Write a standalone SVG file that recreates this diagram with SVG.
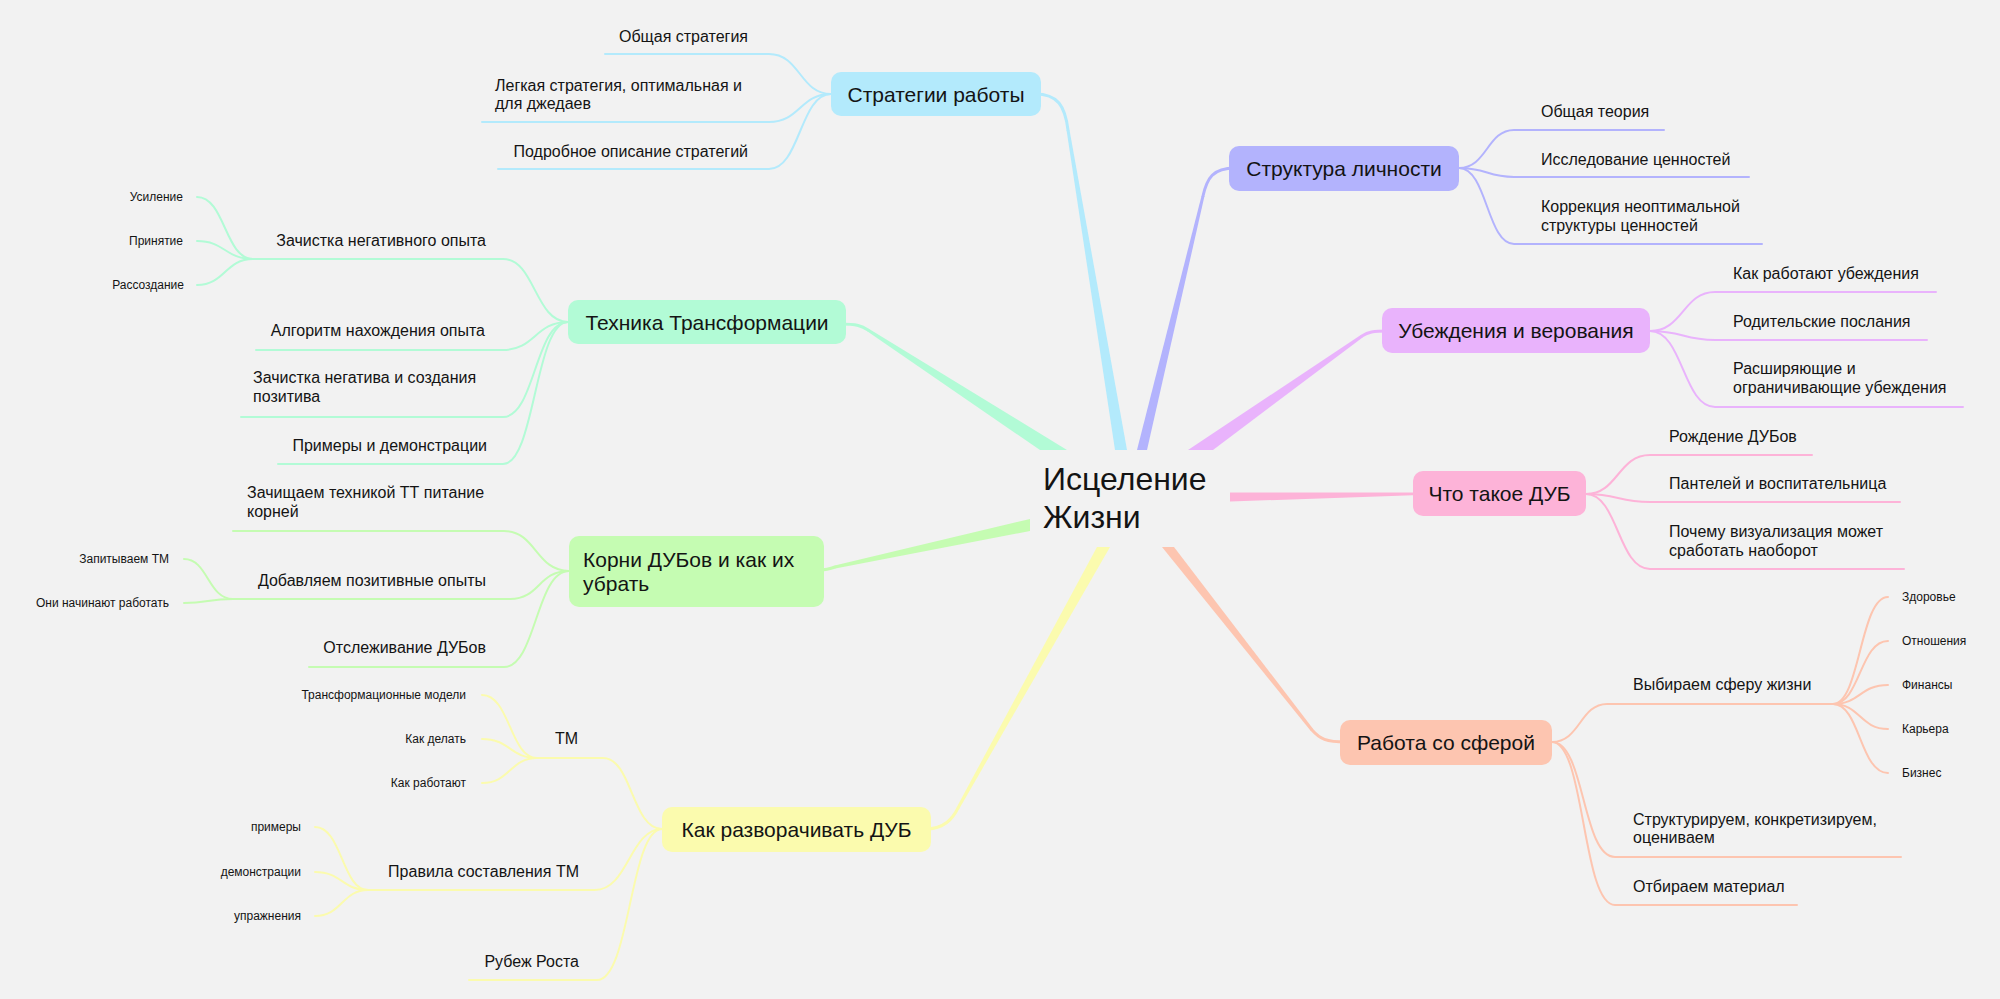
<svg xmlns="http://www.w3.org/2000/svg" width="2000" height="999" viewBox="0 0 2000 999">
<defs>
<style>
text{font-family:"Liberation Sans",Arial,sans-serif;fill:#141414}
.c{font-size:32px}
.m{font-size:21px}
.t{font-size:16px}
.s{font-size:12px}
.e{text-anchor:end}
.mid{text-anchor:middle}
.ln{fill:none;stroke-width:2;stroke-linecap:round}
.th{fill:none;stroke-width:3;stroke-linecap:round}
.blue{stroke:#b3eafc}
.purple{stroke:#b3b3fd}
.violet{stroke:#e9b3fc}
.pink{stroke:#fdb3d8}
.salmon{stroke:#fdc5b0}
.yellow{stroke:#fbfbae}
.green{stroke:#c5fcb2}
.mint{stroke:#b2fbd6}
</style>
</defs>
<rect width="2000" height="999" fill="#f2f2f2"/>

<g id="connectors">
  <!-- main tapered connectors -->
  <path class="th blue" d="M1035,94 C1058,94 1065,106 1068,130"/>
  <polygon fill="#b3eafc" points="1066.5,130 1069.5,130 1127,450 1115,450"/>
  <path class="th purple" d="M1235,168 C1213,168 1207,178 1203,196"/>
  <polygon fill="#b3b3fd" points="1201.5,196 1204.5,196 1147,450 1137,450"/>
  <path class="th violet" d="M1388,331 C1373,331 1368,332 1362,336"/>
  <polygon fill="#e9b3fc" points="1361.1,334.8 1362.9,337.2 1213,450 1188,450"/>
  <polygon fill="#fdb3d8" points="1230,492.5 1420,492.5 1420,495 1230,501.5"/>
  <polygon fill="#fdc5b0" points="1162,547 1174,547 1313.2,729.1 1310.8,730.9"/>
  <path class="th salmon" d="M1312,730 C1320,739 1326,742 1346,742"/>
  <polygon fill="#fbfbae" points="1097,547 1110,547 959.3,808.7 956.7,807.3"/>
  <path class="th yellow" d="M958,808 C953,818 945,829 925,829"/>
  <polygon fill="#c5fcb2" points="1030,519 1030,531 835.3,568.5 834.7,565.5"/>
  <path class="th green" d="M835,567 C830,569 827,570 818,570"/>
  <polygon fill="#b2fbd6" points="868.8,328.7 1067,450 1040,450 867.2,331.3"/>
  <path class="th mint" d="M868,330 C862,326 857,324 840,324"/>

  <!-- Стратегии работы -->
  <path class="ln blue" d="M831,94 C800,94 800,54 769,54 H605"/>
  <path class="ln blue" d="M831,94 C800,94 800,122 769,122 H482"/>
  <path class="ln blue" d="M831,94 C800,94 800,169 769,169 H498"/>
  <!-- Структура личности -->
  <path class="ln purple" d="M1459,168 C1487,168 1487,130 1514,130 H1664"/>
  <path class="ln purple" d="M1459,168 C1487,168 1487,177 1514,177 H1749"/>
  <path class="ln purple" d="M1459,168 C1487,168 1487,244 1514,244 H1762"/>
  <!-- Убеждения и верования -->
  <path class="ln violet" d="M1650,331 C1683,331 1683,292 1715,292 H1936"/>
  <path class="ln violet" d="M1650,331 C1683,331 1683,340 1715,340 H1927"/>
  <path class="ln violet" d="M1650,331 C1683,331 1683,407 1715,407 H1963"/>
  <!-- Что такое ДУБ -->
  <path class="ln pink" d="M1586,494 C1618,494 1618,455 1650,455 H1812"/>
  <path class="ln pink" d="M1586,494 C1618,494 1618,502 1650,502 H1900"/>
  <path class="ln pink" d="M1586,494 C1618,494 1618,569 1650,569 H1904"/>
  <!-- Работа со сферой -->
  <path class="ln salmon" d="M1552,742 C1580,742 1580,704 1607,704 H1833"/>
  <path class="ln salmon" d="M1552,742 C1585,742 1582,857 1615,857 H1901"/>
  <path class="ln salmon" d="M1552,742 C1585,742 1582,905 1615,905 H1797"/>
  <path class="ln salmon" d="M1833,704 C1860,704 1860,597 1888,597"/>
  <path class="ln salmon" d="M1833,704 C1860,704 1860,641 1888,641"/>
  <path class="ln salmon" d="M1833,704 C1860,704 1860,685 1888,685"/>
  <path class="ln salmon" d="M1833,704 C1860,704 1860,729 1888,729"/>
  <path class="ln salmon" d="M1833,704 C1860,704 1860,773 1888,773"/>
  <!-- Как разворачивать ДУБ -->
  <path class="ln yellow" d="M662,829 C632,829 632,758 603,758 H537"/>
  <path class="ln yellow" d="M662,829 C630,829 628,890 595,890 H368"/>
  <path class="ln yellow" d="M662,829 C630,829 630,980 597,980 H469"/>
  <path class="ln yellow" d="M537,758 C510,758 510,695 482,695"/>
  <path class="ln yellow" d="M537,758 C510,758 510,739 482,739"/>
  <path class="ln yellow" d="M537,758 C510,758 510,783 482,783"/>
  <path class="ln yellow" d="M368,890 C342,890 342,827 315,827"/>
  <path class="ln yellow" d="M368,890 C342,890 342,872 315,872"/>
  <path class="ln yellow" d="M368,890 C342,890 342,916 315,916"/>
  <!-- Корни ДУБов -->
  <path class="ln green" d="M569,571 C536,571 536,531 504,531 H233"/>
  <path class="ln green" d="M569,571 C538,571 540,599 510,599 H233"/>
  <path class="ln green" d="M569,571 C536,571 536,667 504,667 H309"/>
  <path class="ln green" d="M233,599 C208,599 208,559 184,559"/>
  <path class="ln green" d="M233,599 C208,599 208,603 184,603"/>
  <!-- Техника Трансформации -->
  <path class="ln mint" d="M568,322 C535,322 535,259 503,259 H253"/>
  <path class="ln mint" d="M568,322 C535,322 535,350 503,350 H256"/>
  <path class="ln mint" d="M568,322 C535,322 535,417 503,417 H241"/>
  <path class="ln mint" d="M568,322 C535,322 535,464 503,464 H278"/>
  <path class="ln mint" d="M253,259 C225,259 225,197 197,197"/>
  <path class="ln mint" d="M253,259 C225,259 225,241 197,241"/>
  <path class="ln mint" d="M253,259 C225,259 225,285 197,285"/>
</g>

<g id="central">
  <text class="c" x="1043" y="490">Исцеление</text>
  <text class="c" x="1043" y="528">Жизни</text>
</g>

<g id="strategii">
  <rect x="831" y="72" width="210" height="44" rx="10" fill="#b3eafc"/>
  <text class="m mid" x="936" y="101.5">Стратегии работы</text>
</g>
<g id="strategii-1"><text class="t e" x="748" y="42">Общая стратегия</text></g>
<g id="strategii-2"><text class="t" x="495" y="91">Легкая стратегия, оптимальная и</text><text class="t" x="495" y="109">для джедаев</text></g>
<g id="strategii-3"><text class="t e" x="748" y="157">Подробное описание стратегий</text></g>

<g id="struktura">
  <rect x="1229" y="146" width="230" height="45" rx="10" fill="#b3b3fd"/>
  <text class="m mid" x="1344" y="176">Структура личности</text>
</g>
<g id="struktura-1"><text class="t" x="1541" y="117">Общая теория</text></g>
<g id="struktura-2"><text class="t" x="1541" y="165">Исследование ценностей</text></g>
<g id="struktura-3"><text class="t" x="1541" y="212">Коррекция неоптимальной</text><text class="t" x="1541" y="231">структуры ценностей</text></g>

<g id="ubezhdeniya">
  <rect x="1382" y="308" width="268" height="45" rx="10" fill="#e9b3fc"/>
  <text class="m mid" x="1516" y="338">Убеждения и верования</text>
</g>
<g id="ubezhdeniya-1"><text class="t" x="1733" y="279">Как работают убеждения</text></g>
<g id="ubezhdeniya-2"><text class="t" x="1733" y="327">Родительские послания</text></g>
<g id="ubezhdeniya-3"><text class="t" x="1733" y="374">Расширяющие и</text><text class="t" x="1733" y="393">ограничивающие убеждения</text></g>

<g id="dub">
  <rect x="1413" y="471" width="173" height="45" rx="10" fill="#fdb3d8"/>
  <text class="m mid" x="1499.5" y="501">Что такое ДУБ</text>
</g>
<g id="dub-1"><text class="t" x="1669" y="442">Рождение ДУБов</text></g>
<g id="dub-2"><text class="t" x="1669" y="489">Пантелей и воспитательница</text></g>
<g id="dub-3"><text class="t" x="1669" y="537">Почему визуализация может</text><text class="t" x="1669" y="556">сработать наоборот</text></g>

<g id="sfera">
  <rect x="1340" y="720" width="212" height="45" rx="10" fill="#fdc5b0"/>
  <text class="m mid" x="1446" y="750">Работа со сферой</text>
</g>
<g id="sfera-1"><text class="t" x="1633" y="690">Выбираем сферу жизни</text></g>
<g id="sfera-1-1"><text class="s" x="1902" y="601">Здоровье</text></g>
<g id="sfera-1-2"><text class="s" x="1902" y="645">Отношения</text></g>
<g id="sfera-1-3"><text class="s" x="1902" y="689">Финансы</text></g>
<g id="sfera-1-4"><text class="s" x="1902" y="733">Карьера</text></g>
<g id="sfera-1-5"><text class="s" x="1902" y="777">Бизнес</text></g>
<g id="sfera-2"><text class="t" x="1633" y="825">Структурируем, конкретизируем,</text><text class="t" x="1633" y="843">оцениваем</text></g>
<g id="sfera-3"><text class="t" x="1633" y="892">Отбираем материал</text></g>

<g id="razvorot">
  <rect x="662" y="807" width="269" height="45" rx="10" fill="#fbfbae"/>
  <text class="m mid" x="796.5" y="837">Как разворачивать ДУБ</text>
</g>
<g id="razvorot-1"><text class="t e" x="578" y="744">ТМ</text></g>
<g id="razvorot-1-1"><text class="s e" x="466" y="699">Трансформационные модели</text></g>
<g id="razvorot-1-2"><text class="s e" x="466" y="743">Как делать</text></g>
<g id="razvorot-1-3"><text class="s e" x="466" y="787">Как работают</text></g>
<g id="razvorot-2"><text class="t e" x="579" y="877">Правила составления ТМ</text></g>
<g id="razvorot-2-1"><text class="s e" x="301" y="831">примеры</text></g>
<g id="razvorot-2-2"><text class="s e" x="301" y="876">демонстрации</text></g>
<g id="razvorot-2-3"><text class="s e" x="301" y="920">упражнения</text></g>
<g id="razvorot-3"><text class="t e" x="579" y="967">Рубеж Роста</text></g>

<g id="korni">
  <rect x="569" y="536" width="255" height="71" rx="10" fill="#c5fcb2"/>
  <text class="m" x="583" y="567">Корни ДУБов и как их</text>
  <text class="m" x="583" y="591">убрать</text>
</g>
<g id="korni-1"><text class="t" x="247" y="498">Зачищаем техникой ТТ питание</text><text class="t" x="247" y="517">корней</text></g>
<g id="korni-2"><text class="t e" x="486" y="586">Добавляем позитивные опыты</text></g>
<g id="korni-2-1"><text class="s e" x="169" y="563">Запитываем ТМ</text></g>
<g id="korni-2-2"><text class="s e" x="169" y="607">Они начинают работать</text></g>
<g id="korni-3"><text class="t e" x="486" y="653">Отслеживание ДУБов</text></g>

<g id="tehnika">
  <rect x="568" y="300" width="278" height="44" rx="10" fill="#b2fbd6"/>
  <text class="m mid" x="707" y="329.5">Техника Трансформации</text>
</g>
<g id="tehnika-1"><text class="t e" x="486" y="246">Зачистка негативного опыта</text></g>
<g id="tehnika-1-1"><text class="s e" x="183" y="201">Усиление</text></g>
<g id="tehnika-1-2"><text class="s e" x="183" y="245">Принятие</text></g>
<g id="tehnika-1-3"><text class="s e" x="184" y="289">Рассоздание</text></g>
<g id="tehnika-2"><text class="t e" x="485" y="336">Алгоритм нахождения опыта</text></g>
<g id="tehnika-3"><text class="t" x="253" y="383">Зачистка негатива и создания</text><text class="t" x="253" y="402">позитива</text></g>
<g id="tehnika-4"><text class="t e" x="487" y="451">Примеры и демонстрации</text></g>
</svg>
